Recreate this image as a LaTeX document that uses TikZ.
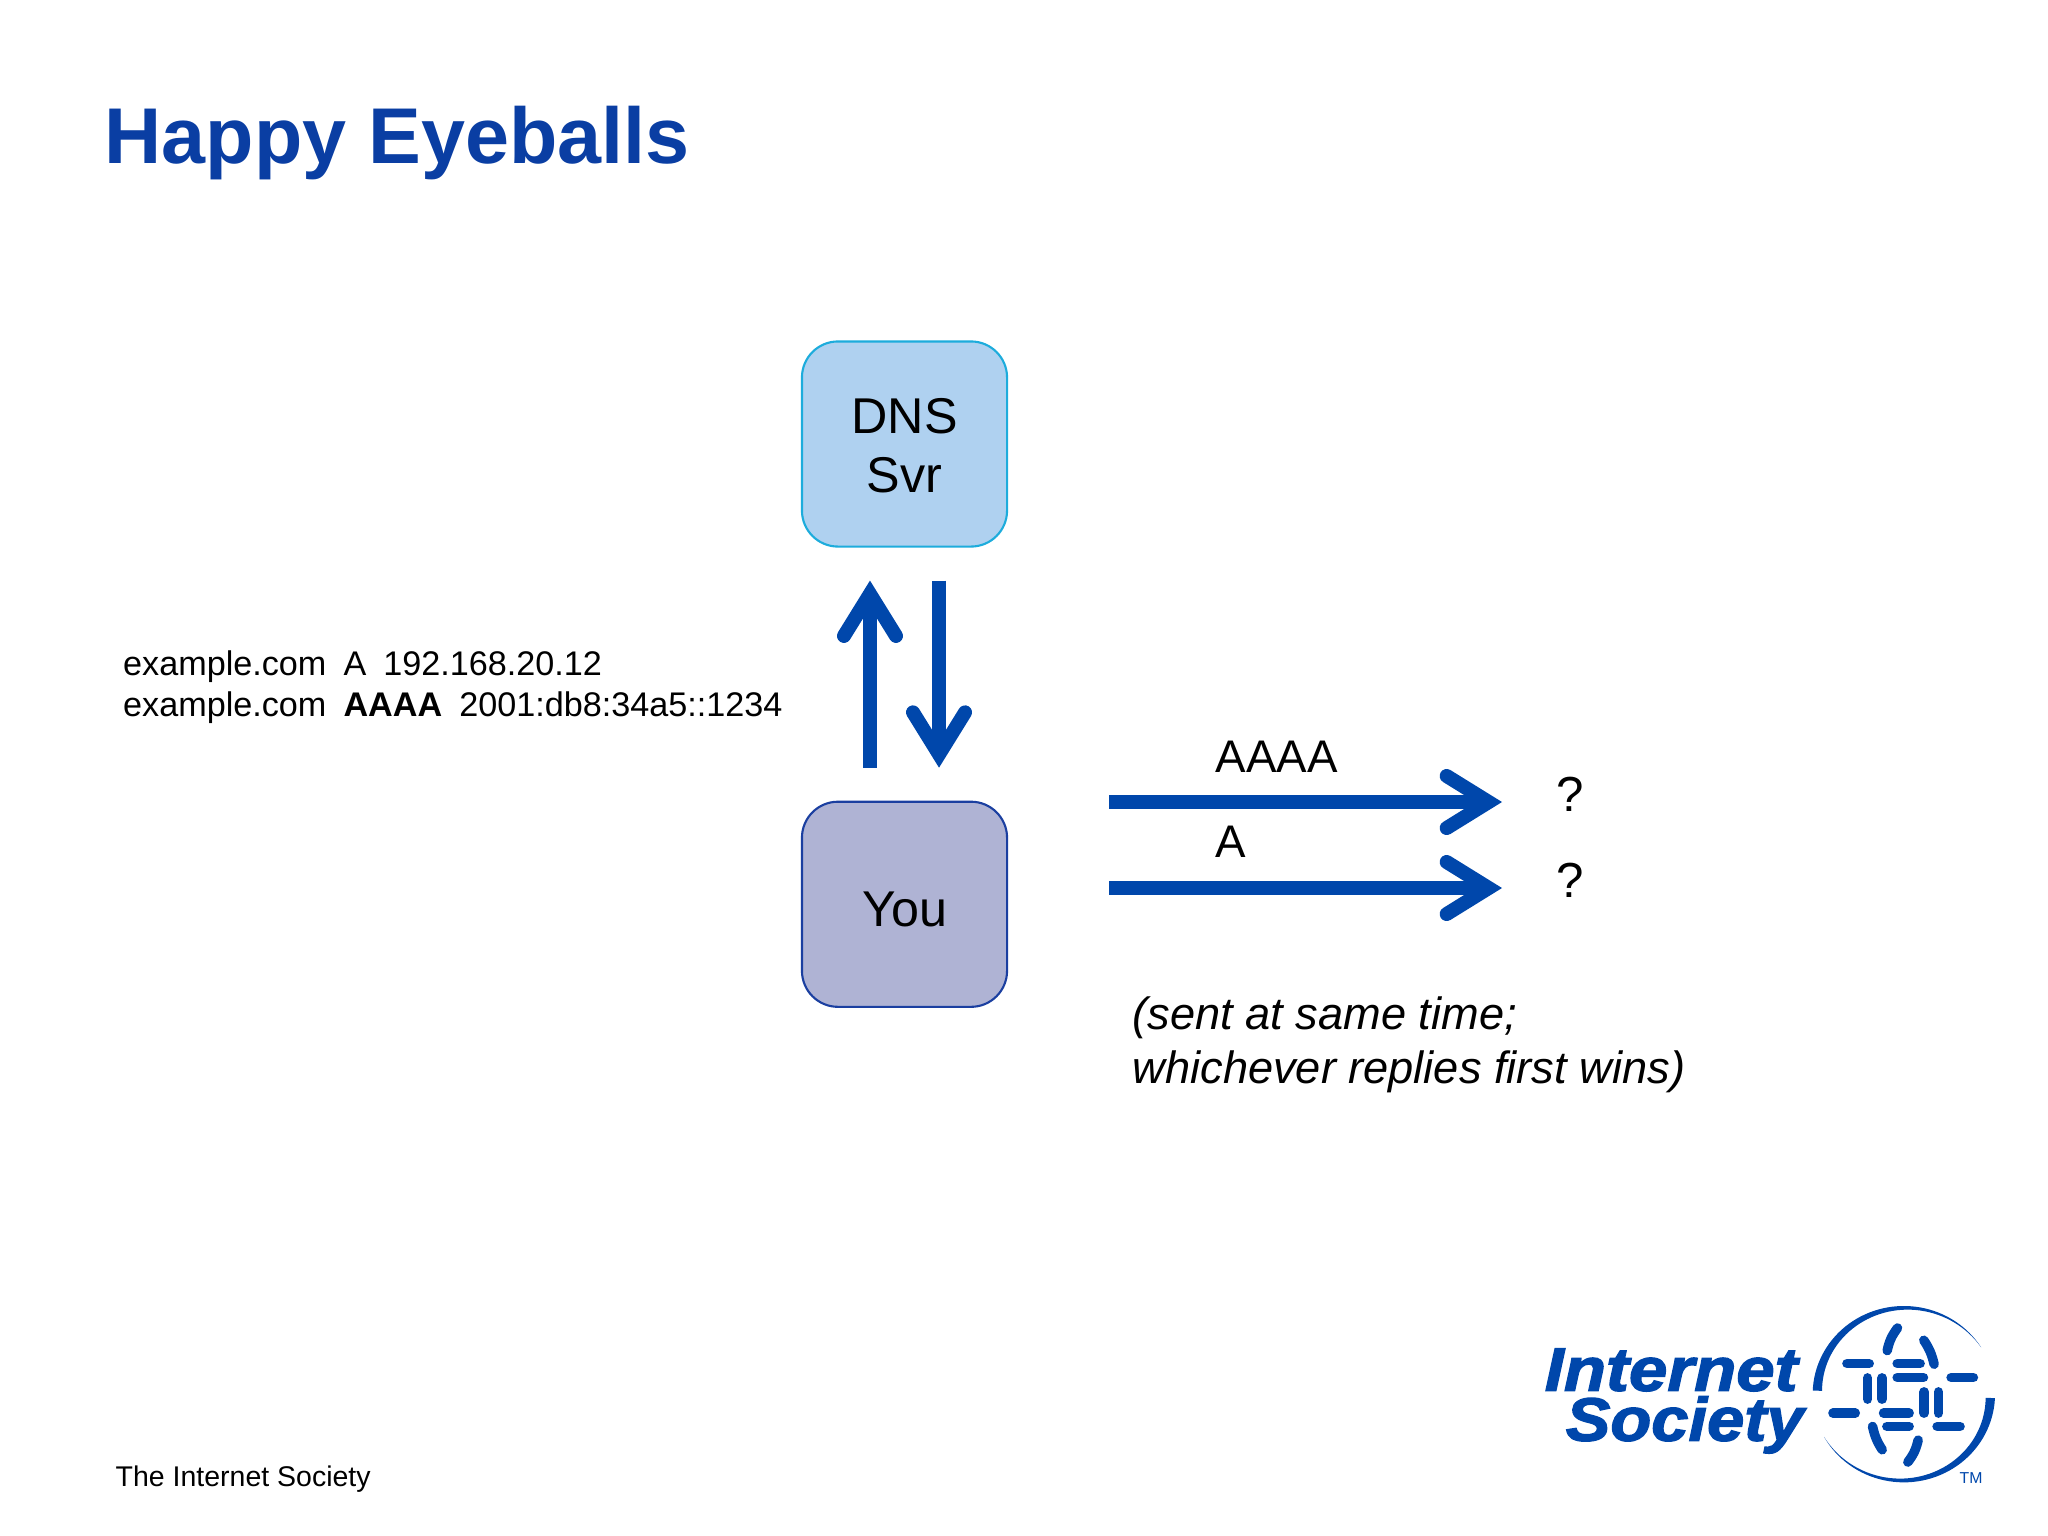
\documentclass[tikz,border=0pt]{standalone}
\usepackage{fontspec}
\setmainfont{Liberation Sans}
\newfontfamily\logofont[FakeBold=2.2,FakeStretch=1.127]{Liberation Sans}
\usetikzlibrary{positioning, arrows.meta}
\definecolor{isocblue}{HTML}{0047AB}
\definecolor{titleblue}{HTML}{0A3EA3}
\definecolor{dnsfill}{HTML}{AFD1F0}
\definecolor{dnsline}{HTML}{1DACDC}
\definecolor{youfill}{HTML}{AFB3D4}
\definecolor{youline}{HTML}{1B3FA0}
\newcommand{\gapsp}{\hspace{0.5em}}
\tikzset{
box/.style={draw, line width=0.6pt, rounded corners=0.36cm, minimum size=2.05cm, inner sep=0pt, outer sep=0pt, align=center, font=\fontsize{14.3}{16.9}\selectfont},
flow/.style={draw=isocblue, line width=0.14cm, -{Straight Barb[length=0.42cm, width=0.52cm, line cap=round, line join=miter]}},
label/.style={inner sep=0pt, anchor=base west, font=\fontsize{13}{15}\selectfont},
logobar/.style={draw=isocblue, line width=0.095cm, line cap=round},
}
\begin{document}
\begin{tikzpicture}[x=0.01cm, y=-0.01cm]
            \useasboundingbox (0,0) rectangle (2048,1536);

            \node[label, text=titleblue, font=\fontsize{22.5}{26}\bfseries] (title) at (104,163) {Happy Eyeballs};

            \node[box, fill=dnsfill, draw=dnsline] (dns) at (904.5,444) {\rule{0pt}{11pt}DNS\\Svr};
            \node[box, fill=youfill, draw=youline, text height=0.44cm, below=2.55cm of dns] (you) {You};

            \node[inner sep=0pt, anchor=west, align=left, font=\fontsize{9.72}{11.6}\selectfont] (answers) at (122.5,687)
                {example.com\gapsp A\gapsp 192.168.20.12\\example.com\gapsp\textbf{AAAA}\gapsp 2001:db8:34a5::1234};

            % arrows between the server and you
            \coordinate (upfrom) at ([xshift=-0.345cm, yshift=0.34cm]you.north);
            \coordinate (upto) at ([xshift=-0.345cm, yshift=-0.34cm]dns.south);
            \coordinate (downfrom) at ([xshift=0.345cm, yshift=-0.34cm]dns.south);
            \coordinate (downto) at ([xshift=0.345cm, yshift=0.34cm]you.north);
            \draw[flow] (upfrom) -- (upto);
            \draw[flow] (downfrom) -- (downto);

            % the two queries
            \coordinate (aaaafrom) at (1109,802);
            \coordinate (aaaato) at (1502,802);
            \coordinate (afrom) at (1109,888);
            \coordinate (ato) at (1502,888);
            \draw[flow] (aaaafrom) -- (aaaato);
            \draw[flow] (afrom) -- (ato);

            \node[label] (aaaa) at (1215,772) {AAAA};
            \node[label] (a) at (1215,857) {A};
            \node[label, font=\fontsize{14}{16}\selectfont] (q1) at (1556,811) {?};
            \node[label, font=\fontsize{14}{16}\selectfont] (q2) at (1556,897) {?};

            \node[inner sep=0pt, anchor=west, align=left, font=\fontsize{12.85}{15.4}\itshape] (note) at (1132,1045)
                {(sent at same time;\\whichever replies first wins)};

            \node[label, font=\fontsize{8.1}{10}\selectfont] (footer) at (115,1486) {The Internet Society};

            % logo
            \node[inner sep=0pt, anchor=west, align=left, text=isocblue, font=\logofont\fontsize{17.4}{14.2}\bfseries\itshape] (wordmark) at (1544,1401)
                {Internet\\\hspace{6pt}\scalebox{0.97}[1]{Society}};
            \node[label, text=isocblue, font=\fontsize{4.5}{6}\selectfont] (tm) at (1959,1483) {TM};
            \begin{scope}[shift={(1800,1290)}, x=0.00333cm, y=-0.00333cm]
                \fill[isocblue] plot[domain=177.6:32, samples=50] ({312+274*cos(\x)},{313-265*sin(\x)})
                    -- plot[domain=32:177.6, samples=50] ({312+(274-28*(\x-32)/145.6)*cos(\x)},{313-(265-28*(\x-32)/145.6)*sin(\x)}) -- cycle;
                \fill[isocblue] plot[domain=2.6:151, samples=50] ({312+274*cos(\x)},{313+265*sin(\x)})
                    -- plot[domain=151:2.6, samples=50] ({312+(274-28*(151-\x)/148.4)*cos(\x)},{313+(265-28*(151-\x)/148.4)*sin(\x)}) -- cycle;
                \foreach \xa/\ya/\xb/\yb in {141/221/208/221, 292/221/361/221, 292/263/371/263, 454/263/521/263,
                    99/370/166/370, 251/370/328/370, 261/410/328/410, 412/410/481/410,
                    203/264/203/328, 247/264/247/328, 373/306/373/370, 416/306/416/370}
                    \draw[logobar] (\xa,\ya) -- (\xb,\yb);
                \draw[logobar] (262,182) to[bend left=12] (293,114);
                \draw[logobar] (372,151) to[bend left=10] (403,223);
                \draw[logobar] (218,410) to[bend right=10] (247,480);
                \draw[logobar] (324,517) to[bend right=12] (355,451);
            \end{scope}
        \end{tikzpicture}
\end{document}
